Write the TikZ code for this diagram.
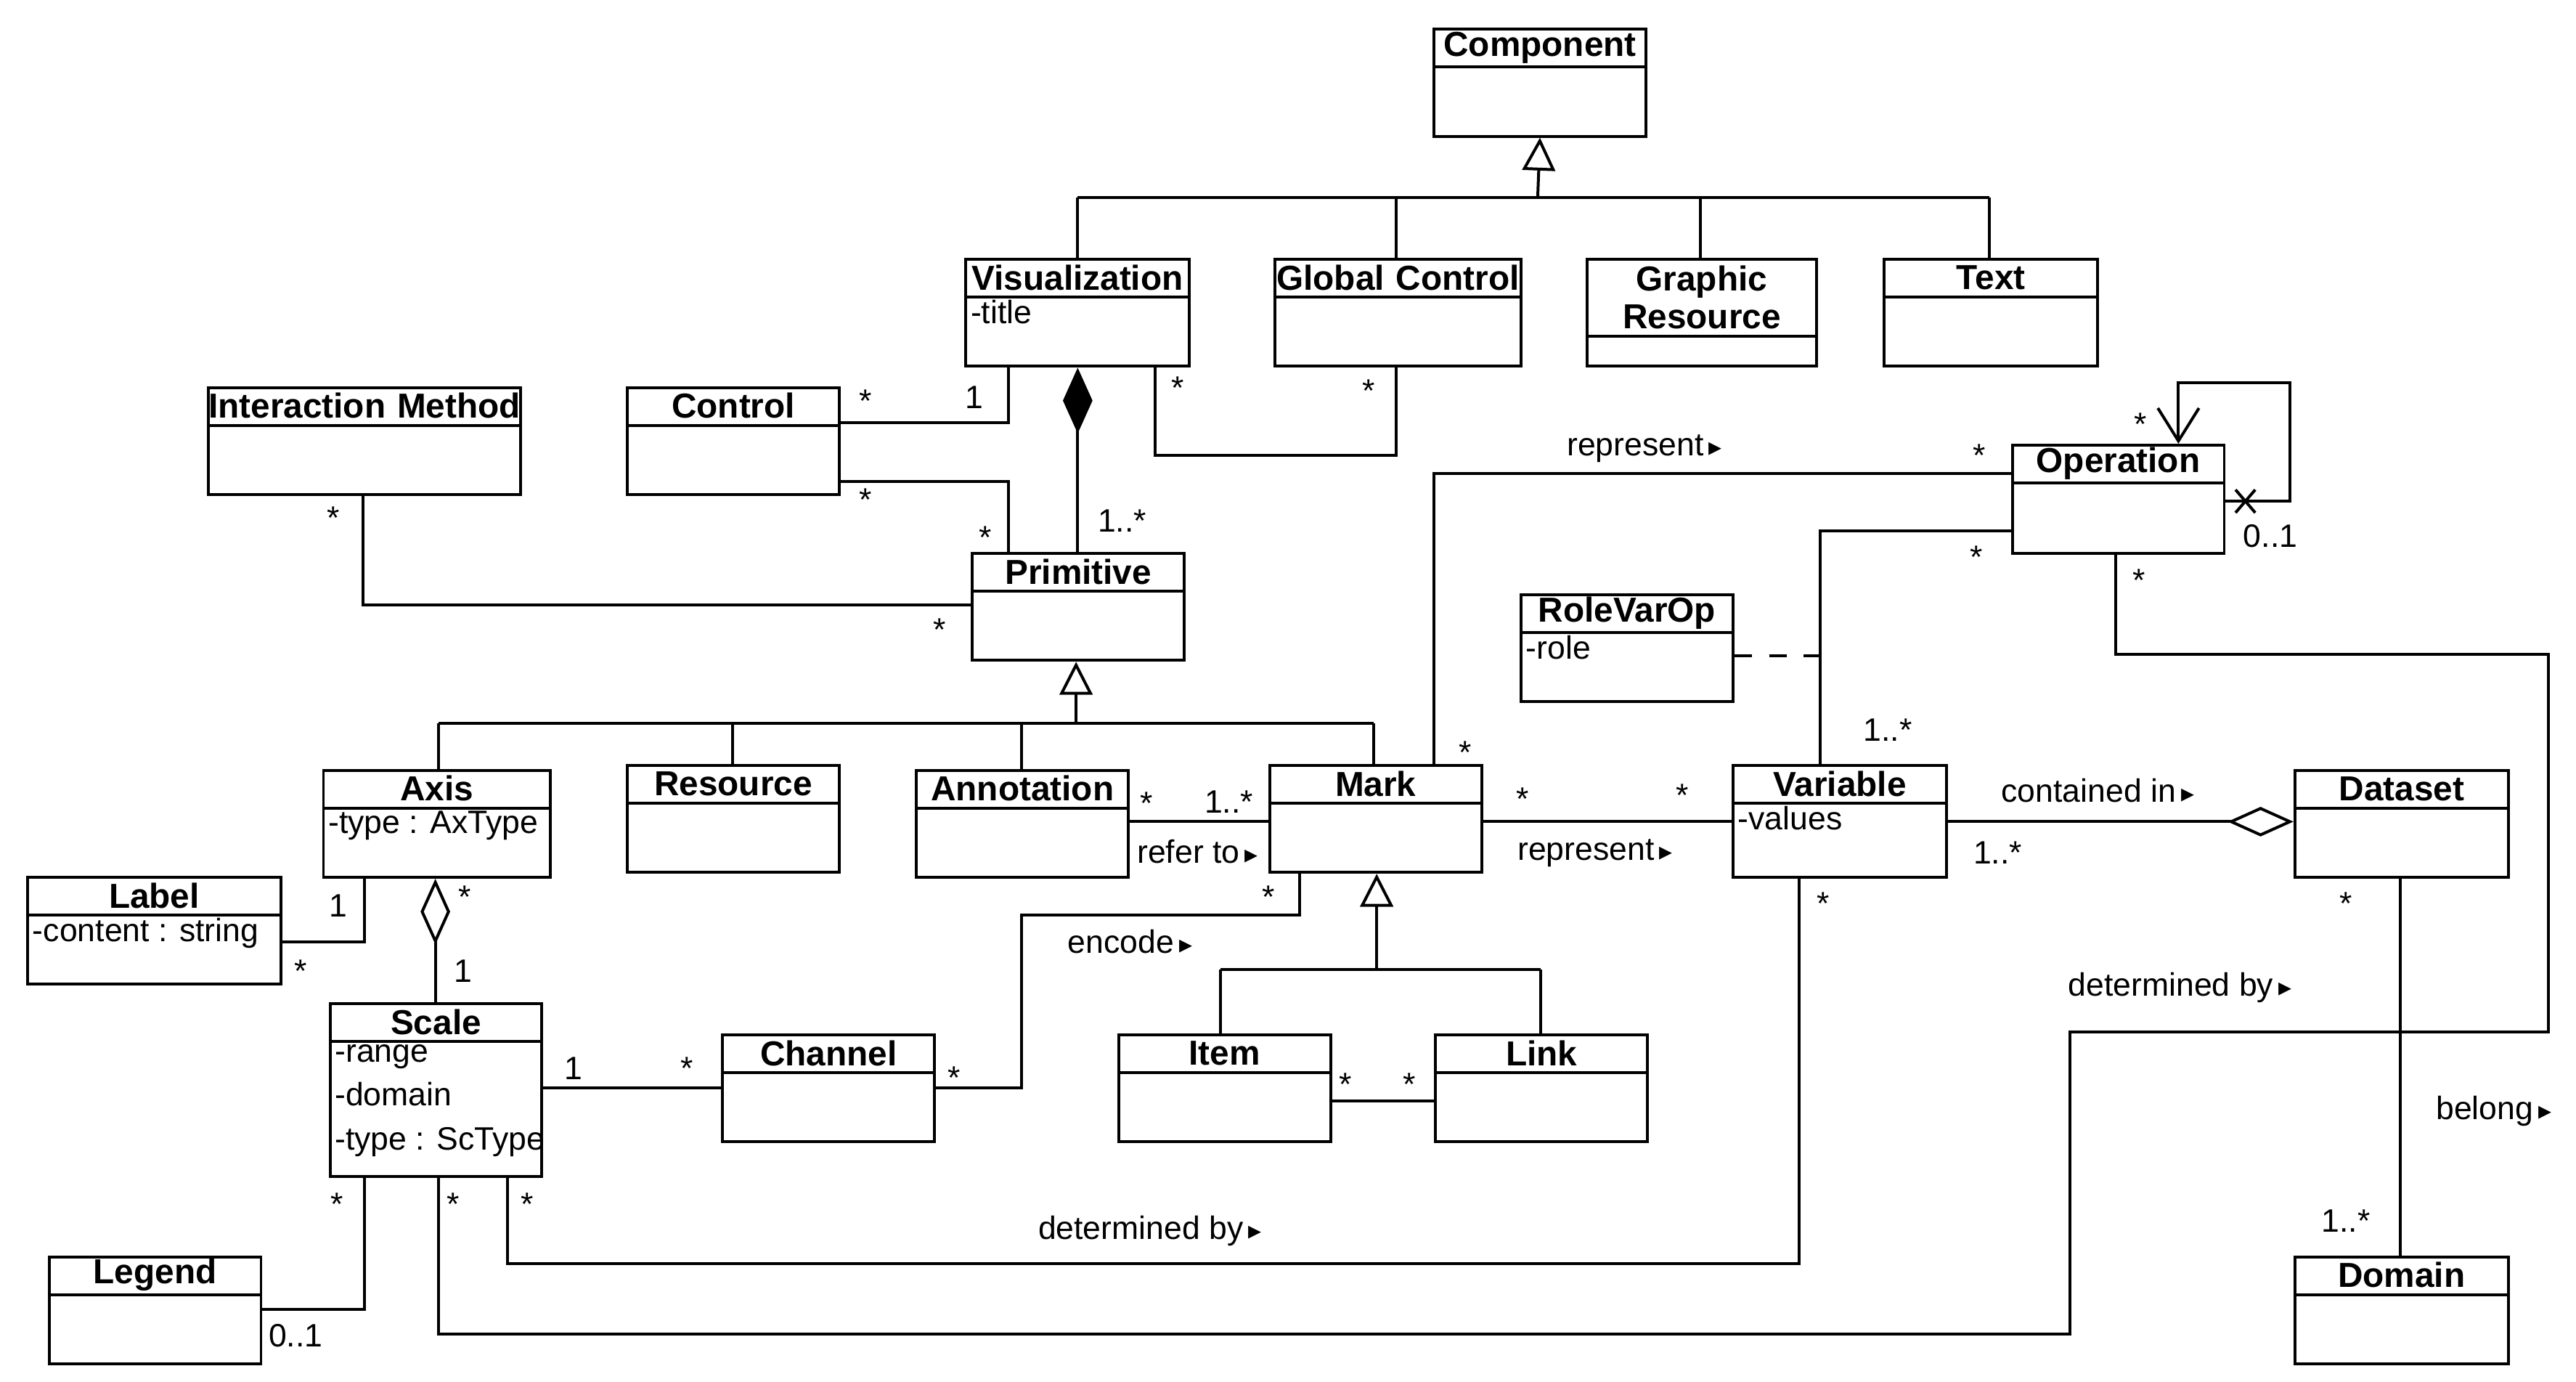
\documentclass[tikz,border=0pt]{standalone}
\usepackage{fontspec}
\setmainfont{Liberation Sans}
\newfontfamily\symf{DejaVu Sans}
\usetikzlibrary{arrows.meta, calc}

\newcommand{\rt}{\,{\symf\fontsize{4.5}{5}\selectfont ▸}}
% class box: name, left, top, width, height, header height, title
\newcommand{\uclass}[7]{%
  \node[cls, minimum width=#4*0.01cm, minimum height=#5*0.01cm, anchor=north west] (#1) at (#2,#3) {};
  \node[hdr, minimum height=#6*0.01cm, text width=#4*0.01cm, anchor=north] (#1-t) at (#1.north) {#7};
  \draw (#1-t.south west) -- (#1-t.south east);}
\newcommand{\uattr}[3]{\node[attr, anchor=north west] (#1-a) at ($(#1-t.south west)+(3,1)$) {#3};}

\begin{document}
\begin{tikzpicture}[x=0.01cm, y=-0.01cm,
    cls/.style={draw, rectangle, inner sep=0pt, line width=0.5pt},
    hdr/.style={inner sep=0pt, align=center, font=\bfseries\fontsize{6}{6.6}\selectfont},
    attr/.style={inner sep=0pt, align=left, font=\fontsize{5.6}{7.6}\selectfont},
    lbl/.style={inner sep=0pt, font=\fontsize{5.6}{6.6}\selectfont},
    every path/.style={line width=0.5pt},
    gen/.style={-{Triangle[open, length=0.2cm, width=0.2cm]}},
    agg/.style={-{Diamond[open, length=0.4cm, width=0.18cm]}},
    comp/.style={-{Diamond[length=0.4cm, width=0.18cm]}}]
\useasboundingbox (0,0) rectangle (1568,841);

% classes
\uclass{comp}{872}{17}{129}{65}{22}{Component}
\uclass{vis}{587}{157}{136}{65}{22}{Visualization}
\uattr{vis}{}{-title}
\uclass{gctl}{775}{157}{150}{65}{22}{Global Control}
\uclass{gres}{965}{157}{140}{65}{46}{Graphic\\Resource}
\uclass{text}{1146}{157}{130}{65}{22}{Text}
\uclass{imeth}{126}{235}{190}{65}{22}{Interaction Method}
\uclass{ctl}{381}{235}{129}{65}{22}{Control}
\uclass{prim}{591}{336}{129}{65}{22}{Primitive}
\uclass{oper}{1224}{270}{129}{66}{22}{Operation}
\uclass{rvo}{925}{361}{129}{65}{22}{RoleVarOp}
\uattr{rvo}{}{-role}
\uclass{axis}{196}{468}{138}{65}{22}{Axis}
\uattr{axis}{}{-type : AxType}
\uclass{res}{381}{465}{129}{65}{22}{Resource}
\uclass{anno}{557}{468}{129}{65}{22}{Annotation}
\uclass{mark}{772}{465}{129}{65}{22}{Mark}
\uclass{var}{1054}{465}{130}{68}{22}{Variable}
\uattr{var}{}{-values}
\uclass{data}{1396}{468}{130}{65}{22}{Dataset}
\uclass{label}{16}{533}{154}{65}{22}{Label}
\uattr{label}{}{-content : string}
\uclass{scale}{200}{610}{129}{105}{22}{Scale}
\uattr{scale}{}{-range\\-domain\\-type : ScType}
\uclass{chan}{439}{629}{129}{65}{22}{Channel}
\uclass{item}{680}{629}{129}{65}{22}{Item}
\uclass{link}{873}{629}{129}{65}{22}{Link}
\uclass{leg}{29}{764}{129}{65}{22}{Legend}
\uclass{dom}{1396}{764}{130}{65}{22}{Domain}

% generalizations
\draw[gen] (936,120) -- (comp.south);
\draw (656,120) -- (1211,120);
\draw (656,120) -- (vis.north -| 656,0);
\draw (850,120) -- (gctl.north -| 850,0);
\draw (1035,120) -- (gres.north -| 1035,0);
\draw (1211,120) -- (text.north -| 1211,0);
\draw[gen] (655,440) -- (prim.south -| 655,0);
\draw (267,440) -- (836,440);
\draw (267,440) -- (axis.north -| 267,0);
\draw (446,440) -- (res.north -| 446,0);
\draw (622,440) -- (anno.north -| 622,0);
\draw (836,440) -- (mark.north -| 836,0);
\draw[gen] (838,590) -- (mark.south -| 838,0);
\draw (743,590) -- (938,590);
\draw (743,590) -- (item.north -| 743,0);
\draw (938,590) -- (link.north -| 938,0);

% associations
\draw (ctl.east |- 0,257) -- (614,257) -- (vis.south -| 614,0);
\draw (ctl.east |- 0,293) -- (614,293) -- (prim.north -| 614,0);
\draw[comp] (prim.north -| 656,0) -- (vis.south -| 656,0);
\draw (vis.south -| 703,0) -- (703,277) -- (850,277) -- (gctl.south -| 850,0);
\draw (imeth.south -| 221,0) -- (221,368) -- (prim.west |- 0,368);
\draw (anno.east |- 0,500) -- (mark.west |- 0,500);
\draw (mark.east |- 0,500) -- (var.west |- 0,500);
\draw (mark.north -| 873,0) -- (873,288) -- (oper.west |- 0,288);
\draw (var.north -| 1108,0) -- (1108,323) -- (oper.west |- 0,323);
\draw[dashed] (rvo.east |- 0,399) -- (1108,399);
\draw[-{Straight Barb[length=0.2cm, width=0.25cm]}] (oper.east |- 0,305) -- (1394,305) -- (1394,233) -- (1326,233) -- (oper.north -| 1326,0);
\draw (oper.east |- 0,305) ++(6,-7) coordinate (x1) -- ++(12,14) coordinate (x2);
\draw (x1) ++(12,0) coordinate (x3) -- ++(-12,14) coordinate (x4);
\draw (oper.south -| 1288,0) -- (1288,398) -- (1551,398) -- (1551,628) -- (1260,628) -- (1260,812) -- (267,812) -- (scale.south -| 267,0);
\draw (var.south -| 1095,0) -- (1095,769) -- (309,769) -- (scale.south -| 309,0);
\draw[agg] (var.east |- 0,500) -- (data.west |- 0,500);
\draw (data.south -| 1461,0) -- (dom.north -| 1461,0);
\draw[agg] (scale.north -| 265,0) -- (axis.south -| 265,0);
\draw (label.east |- 0,573) -- (222,573) -- (axis.south -| 222,0);
\draw (scale.east |- 0,662) -- (chan.west |- 0,662);
\draw (chan.east |- 0,662) -- (622,662) -- (622,557) -- (791,557) -- (mark.south -| 791,0);
\draw (item.east |- 0,670) -- (link.west |- 0,670);
\draw (leg.east |- 0,797) -- (222,797) -- (scale.south -| 222,0);

% multiplicities and role names
\node[lbl] (m1) at (527,244) {*};
\node[lbl] (m2) at (593,242) {1};
\node[lbl] (m3) at (527,304) {*};
\node[lbl] (m4) at (600,327) {*};
\node[lbl] (m5) at (683,317) {1..*};
\node[lbl] (m6) at (717,236) {*};
\node[lbl] (m7) at (833,238) {*};
\node[lbl] (m8) at (203,315) {*};
\node[lbl] (m9) at (572,383) {*};
\node[lbl] (m10) at (698,489) {*};
\node[lbl] (m11) at (748,488) {1..*};
\node[lbl] (r1) at (729,518) {refer to\rt};
\node[lbl] (m12) at (927,486) {*};
\node[lbl] (m13) at (1024,484) {*};
\node[lbl] (r2) at (971,519) {represent\rt};
\node[lbl] (m14) at (892,458) {*};
\node[lbl] (r3) at (1001,273) {represent\rt};
\node[lbl] (m15) at (1205,277) {*};
\node[lbl] (m16) at (1149,444) {1..*};
\node[lbl] (m17) at (1203,339) {*};
\node[lbl] (m18) at (1303,258) {*};
\node[lbl] (m19) at (1382,326) {0..1};
\node[lbl] (m20) at (1302,353) {*};
\node[lbl] (r4) at (1327,601) {determined by\rt};
\node[lbl] (m21) at (276,733) {*};
\node[lbl] (m22) at (1110,550) {*};
\node[lbl] (m23) at (321,733) {*};
\node[lbl] (r5) at (700,749) {determined by\rt};
\node[lbl] (r6) at (1277,481) {contained in\rt};
\node[lbl] (m24) at (1216,519) {1..*};
\node[lbl] (m25) at (1428,550) {*};
\node[lbl] (m26) at (1428,743) {1..*};
\node[lbl] (r7) at (1518,676) {belong\rt};
\node[lbl] (m27) at (283,546) {*};
\node[lbl] (m28) at (282,591) {1};
\node[lbl] (m29) at (206,551) {1};
\node[lbl] (m30) at (183,591) {*};
\node[lbl] (m31) at (349,650) {1};
\node[lbl] (m32) at (418,650) {*};
\node[lbl] (m33) at (581,656) {*};
\node[lbl] (m34) at (772,546) {*};
\node[lbl] (r8) at (688,573) {encode\rt};
\node[lbl] (m35) at (819,660) {*};
\node[lbl] (m36) at (858,660) {*};
\node[lbl] (m37) at (205,733) {*};
\node[lbl] (m38) at (180,813) {0..1};
\end{tikzpicture}
\end{document}
